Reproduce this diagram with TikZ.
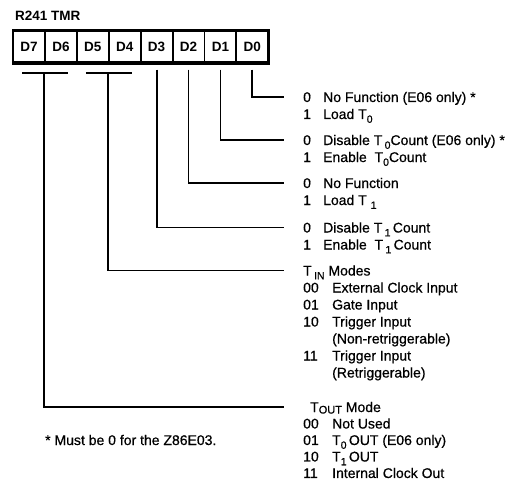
\documentclass[tikz,border=0pt]{standalone}
\usepackage{fontspec}
\setmainfont{Liberation Sans}
\newfontfamily\bodyfont{Liberation Sans}[FakeBold=0.6]
\usetikzlibrary{positioning}
\newcommand\lowix[1]{\raisebox{-3.8pt}{\fontsize{10.5}{10.5}\selectfont #1}}
\tikzset{
  regbox/.style={fill=black,minimum width=258pt,minimum height=36pt,inner sep=0pt},
  cellbox/.style={fill=white,minimum width=30pt,minimum height=29pt,inner sep=0pt,font=\fontsize{13.5}{16}\selectfont\bfseries},
  wire/.style={line width=1.8pt,black},
  lbl/.style={anchor=base west,inner sep=0pt,font=\bodyfont\fontsize{14}{17}\selectfont}
}

\begin{document}
\begin{tikzpicture}[x=1pt,y=-1pt]
  \useasboundingbox (0,0) rectangle (510,484);
  \node[anchor=base west,inner sep=0pt,font=\fontsize{13.5}{16}\selectfont\bfseries] (title) at (15,21) {R241 TMR};
  % register
  \node[regbox] (reg) at (141,47) {};
  \foreach \b in {7,6,...,0}
    \node[cellbox] (D\b) at ({29+31.9*(7-\b)},47) {D\b};
  % bit descriptions
  \node[lbl] (d0txt) at (303,102) {\begin{tabular}[t]{@{}p{20pt}@{}l@{}}
    0 & No Function (E06 only) *\\
    1 & Load T\lowix{0}
  \end{tabular}};
  \node[lbl] (d1txt) at (303,145) {\begin{tabular}[t]{@{}p{20pt}@{}l@{}}
    0 & Disable T\,\lowix{0}Count (E06 only) *\\
    1 & Enable\ \ T\lowix{0}Count
  \end{tabular}};
  \node[lbl] (d2txt) at (303,188) {\begin{tabular}[t]{@{}p{20pt}@{}l@{}}
    0 & No Function\\
    1 & Load T \lowix{1}
  \end{tabular}};
  \node[lbl] (d3txt) at (303,232.5) {\begin{tabular}[t]{@{}p{20pt}@{}l@{}}
    0 & Disable T\,\lowix{1}\,Count\\
    1 & Enable\ \ T\,\lowix{1}\,Count
  \end{tabular}};
  \node[lbl] (tintxt) at (303,275.5) {\begin{tabular}[t]{@{}p{29pt}@{}l@{}}
    \multicolumn{2}{@{}l@{}}{T\,\lowix{IN} Modes}\\
    00 & External Clock Input\\
    01 & Gate Input\\
    10 & Trigger Input\\
       & (Non-retriggerable)\\
    11 & Trigger Input\\
       & (Retriggerable)
  \end{tabular}};
  \node[lbl] (touttxt) at (303,412) {\renewcommand\arraystretch{0.97}\begin{tabular}[t]{@{}p{29pt}@{}l@{}}
    \multicolumn{2}{@{}l@{}}{\hspace{7pt}T\raisebox{-1.5pt}{\fontsize{11}{11}\selectfont OUT} Mode}\\
    00 & Not Used\\
    01 & T\lowix{0}\,OUT (E06 only)\\
    10 & T\lowix{1}\,OUT\\
    11 & Internal Clock Out
  \end{tabular}};
  \node[lbl] (note) at (45,445) {* Must be 0 for the Z86E03.};
  % connectors
  \draw[wire] ([yshift=-8pt]D0.south) |- ([xshift=-19pt,yshift=5pt]d0txt.base west);
  \draw[wire] ([yshift=-8pt]D1.south) |- ([xshift=-19pt,yshift=5pt]d1txt.base west);
  \draw[wire] ([yshift=-8pt]D2.south) |- ([xshift=-19pt,yshift=5pt]d2txt.base west);
  \draw[wire] ([yshift=-8pt]D3.south) |- ([xshift=-19pt,yshift=5pt]d3txt.base west);
  \draw[wire] ([xshift=-7pt,yshift=-11pt]D5.south) -- ([xshift=7pt,yshift=-11pt]D4.south);
  \draw[wire] ([yshift=-11pt]D5.south east) |- ([xshift=-19pt,yshift=5pt]tintxt.base west);
  \draw[wire] ([xshift=-7pt,yshift=-11pt]D7.south) -- ([xshift=7pt,yshift=-11pt]D6.south);
  \draw[wire] ([yshift=-11pt]D7.south east) |- ([xshift=-19pt,yshift=5pt]touttxt.base west);
\end{tikzpicture}
\end{document}
